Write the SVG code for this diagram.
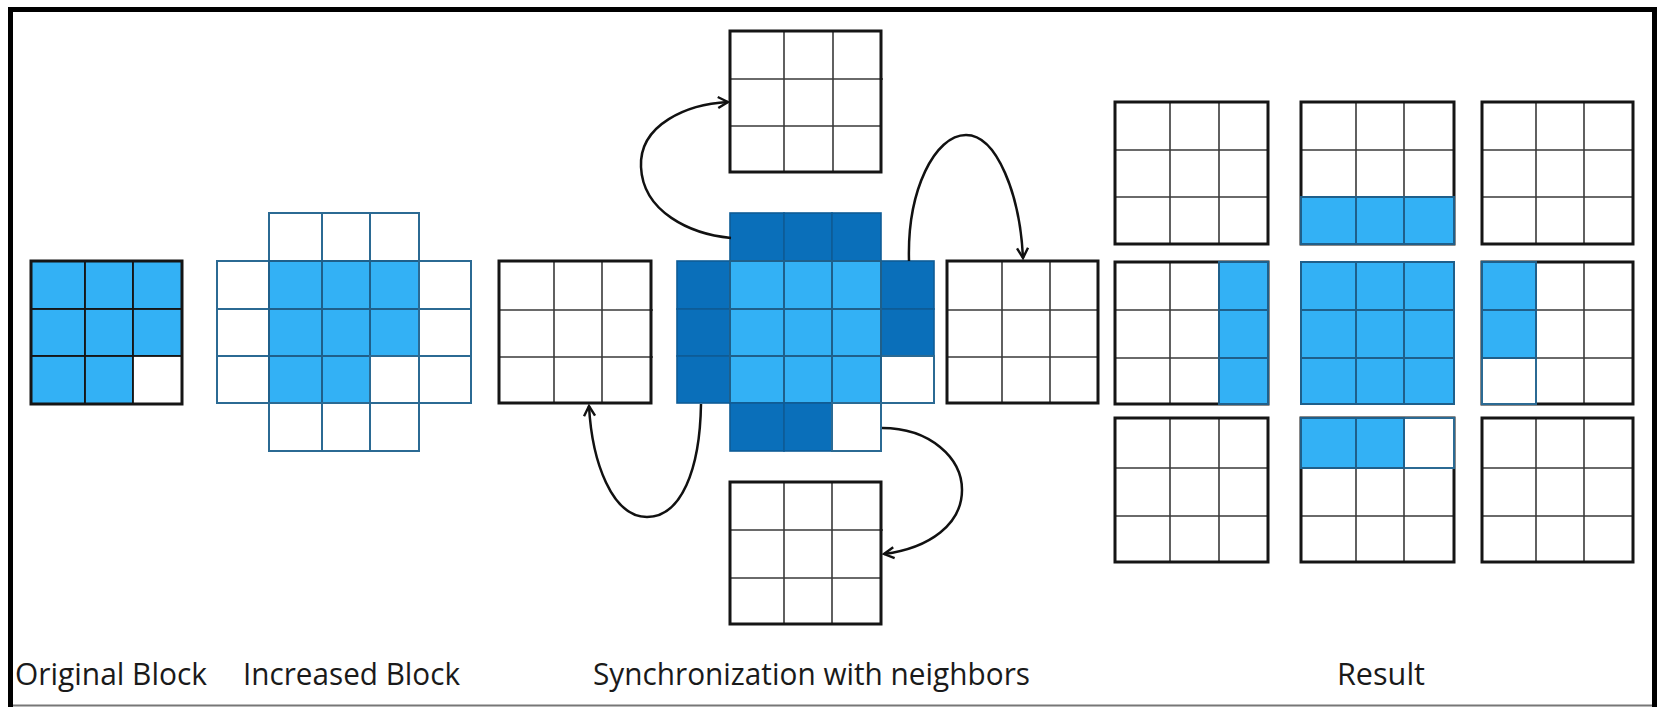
<svg xmlns="http://www.w3.org/2000/svg" width="1661" height="707" viewBox="0 0 1661 707">
<style>
.bg{fill:#ffffff;stroke:none}
.grid{fill:none;stroke:#3a3a3a;stroke-width:1.6}
.outer{fill:none;stroke:#151515;stroke-width:3}
.b{fill:#33b1f5;stroke:#1f5f8a;stroke-width:2}
.d{fill:#0a6fba;stroke:#0e5c96;stroke-width:1.6}
.w{fill:#ffffff;stroke:#2b6a93;stroke-width:2}
.ob{fill:#33b1f5;stroke:#151515;stroke-width:1.8}
.ow{fill:#ffffff;stroke:#151515;stroke-width:1.8}
.arrow{fill:none;stroke:#111111;stroke-width:2.5}
.label{font-family:"Open Sans","Liberation Sans",sans-serif;font-size:31px;fill:#1a1a1a}
</style>
<defs>
<marker id="open" viewBox="0 0 14 14" refX="12" refY="7" markerWidth="14" markerHeight="14" markerUnits="userSpaceOnUse" orient="auto">
<path d="M2,1.5 L12,7 L2,12.5" fill="none" stroke="#111111" stroke-width="2.4"/>
</marker>
</defs>
<rect x="0" y="0" width="1661" height="707" fill="#ffffff"/>
<g id="frame">
<line x1="10.5" y1="7" x2="10.5" y2="707" stroke="#000" stroke-width="5"/>
<line x1="8" y1="9.5" x2="1657" y2="9.5" stroke="#000" stroke-width="5"/>
<line x1="1654.5" y1="7" x2="1654.5" y2="707" stroke="#000" stroke-width="5"/>
<line x1="13" y1="705.5" x2="1652" y2="705.5" stroke="#777" stroke-width="2"/>
</g>

<g id="original-block">
<rect class="ob" x="31" y="261" width="54" height="48"/>
<rect class="ob" x="85" y="261" width="48" height="48"/>
<rect class="ob" x="133" y="261" width="49" height="48"/>
<rect class="ob" x="31" y="309" width="54" height="47"/>
<rect class="ob" x="85" y="309" width="48" height="47"/>
<rect class="ob" x="133" y="309" width="49" height="47"/>
<rect class="ob" x="31" y="356" width="54" height="48"/>
<rect class="ob" x="85" y="356" width="48" height="48"/>
<rect class="ow" x="133" y="356" width="49" height="48"/>
<rect class="outer" x="31" y="261" width="151" height="143"/>
</g>

<g id="increased-block">
<rect class="w" x="269" y="213" width="53" height="48"/>
<rect class="w" x="322" y="213" width="48" height="48"/>
<rect class="w" x="370" y="213" width="49" height="48"/>
<rect class="w" x="217" y="261" width="52" height="48"/>
<rect class="b" x="269" y="261" width="53" height="48"/>
<rect class="b" x="322" y="261" width="48" height="48"/>
<rect class="b" x="370" y="261" width="49" height="48"/>
<rect class="w" x="419" y="261" width="52" height="48"/>
<rect class="w" x="217" y="309" width="52" height="47"/>
<rect class="b" x="269" y="309" width="53" height="47"/>
<rect class="b" x="322" y="309" width="48" height="47"/>
<rect class="b" x="370" y="309" width="49" height="47"/>
<rect class="w" x="419" y="309" width="52" height="47"/>
<rect class="w" x="217" y="356" width="52" height="47"/>
<rect class="b" x="269" y="356" width="53" height="47"/>
<rect class="b" x="322" y="356" width="48" height="47"/>
<rect class="w" x="370" y="356" width="49" height="47"/>
<rect class="w" x="419" y="356" width="52" height="47"/>
<rect class="w" x="269" y="403" width="53" height="48"/>
<rect class="w" x="322" y="403" width="48" height="48"/>
<rect class="w" x="370" y="403" width="49" height="48"/>
</g>

<g id="neighbor-left">
<rect class="bg" x="499" y="261" width="152" height="142"/>
<path class="grid" d="M554,261V403M602,261V403M499,310H653M499,357H653"/>
<rect class="outer" x="499" y="261" width="152" height="142"/>
</g>

<g id="neighbor-top">
<rect class="bg" x="730" y="31" width="151" height="141"/>
<path class="grid" d="M784,31V172M833,31V172M730,79H883M730,126H881"/>
<rect class="outer" x="730" y="31" width="151" height="141"/>
</g>

<g id="neighbor-right">
<rect class="bg" x="947" y="261" width="151" height="142"/>
<path class="grid" d="M1002,261V403M1050,261V403M947,310H1098M947,357H1098"/>
<rect class="outer" x="947" y="261" width="151" height="142"/>
</g>

<g id="neighbor-bottom">
<rect class="bg" x="730" y="482" width="151" height="142"/>
<path class="grid" d="M784,482V624M832,482V624M730,530H883M730,578H881"/>
<rect class="outer" x="730" y="482" width="151" height="142"/>
</g>

<g id="sync-block">
<rect class="d" x="730" y="213" width="54" height="48"/>
<rect class="d" x="784" y="213" width="48" height="48"/>
<rect class="d" x="832" y="213" width="49" height="48"/>
<rect class="d" x="677" y="261" width="53" height="48"/>
<rect class="d" x="677" y="309" width="53" height="47"/>
<rect class="d" x="677" y="356" width="53" height="47"/>
<rect class="d" x="881" y="261" width="53" height="48"/>
<rect class="d" x="881" y="309" width="53" height="47"/>
<rect class="w" x="881" y="356" width="53" height="47"/>
<rect class="b" x="730" y="261" width="54" height="48"/>
<rect class="b" x="784" y="261" width="48" height="48"/>
<rect class="b" x="832" y="261" width="49" height="48"/>
<rect class="b" x="730" y="309" width="54" height="47"/>
<rect class="b" x="784" y="309" width="48" height="47"/>
<rect class="b" x="832" y="309" width="49" height="47"/>
<rect class="b" x="730" y="356" width="54" height="47"/>
<rect class="b" x="784" y="356" width="48" height="47"/>
<rect class="b" x="832" y="356" width="49" height="47"/>
<rect class="d" x="730" y="403" width="54" height="48"/>
<rect class="d" x="784" y="403" width="48" height="48"/>
<rect class="w" x="832" y="403" width="49" height="48"/>
</g>

<g id="result-r1c1">
<rect class="bg" x="1115" y="102" width="153" height="142"/>
<path class="grid" d="M1170,102V244M1219,102V244M1115,150H1268M1115,197H1268"/>
<rect class="outer" x="1115" y="102" width="153" height="142"/>
</g>
<g id="result-r1c2">
<rect class="bg" x="1301" y="102" width="153" height="142"/>
<path class="grid" d="M1356,102V244M1404,102V244M1301,150H1454M1301,197H1454"/>
<rect class="outer" x="1301" y="102" width="153" height="142"/>
<rect class="b" x="1301" y="197" width="55" height="47"/>
<rect class="b" x="1356" y="197" width="48" height="47"/>
<rect class="b" x="1404" y="197" width="50" height="47"/>
</g>
<g id="result-r1c3">
<rect class="bg" x="1482" y="102" width="151" height="142"/>
<path class="grid" d="M1536,102V244M1584,102V244M1482,150H1633M1482,197H1633"/>
<rect class="outer" x="1482" y="102" width="151" height="142"/>
</g>
<g id="result-r2c1">
<rect class="bg" x="1115" y="262" width="153" height="142"/>
<path class="grid" d="M1170,262V404M1219,262V404M1115,310H1268M1115,358H1268"/>
<rect class="outer" x="1115" y="262" width="153" height="142"/>
<rect class="b" x="1219" y="262" width="49" height="48"/>
<rect class="b" x="1219" y="310" width="49" height="48"/>
<rect class="b" x="1219" y="358" width="49" height="46"/>
</g>
<g id="result-r2c2">
<rect class="b" x="1301" y="262" width="55" height="48"/>
<rect class="b" x="1356" y="262" width="48" height="48"/>
<rect class="b" x="1404" y="262" width="50" height="48"/>
<rect class="b" x="1301" y="310" width="55" height="48"/>
<rect class="b" x="1356" y="310" width="48" height="48"/>
<rect class="b" x="1404" y="310" width="50" height="48"/>
<rect class="b" x="1301" y="358" width="55" height="46"/>
<rect class="b" x="1356" y="358" width="48" height="46"/>
<rect class="b" x="1404" y="358" width="50" height="46"/>
</g>
<g id="result-r2c3">
<rect class="bg" x="1482" y="262" width="151" height="142"/>
<path class="grid" d="M1536,262V404M1584,262V404M1482,310H1633M1482,358H1633"/>
<rect class="outer" x="1482" y="262" width="151" height="142"/>
<rect class="w" x="1482" y="358" width="54" height="46"/>
<rect class="b" x="1482" y="262" width="54" height="48"/>
<rect class="b" x="1482" y="310" width="54" height="48"/>
</g>
<g id="result-r3c1">
<rect class="bg" x="1115" y="418" width="153" height="144"/>
<path class="grid" d="M1170,418V562M1219,418V562M1115,468H1268M1115,516H1268"/>
<rect class="outer" x="1115" y="418" width="153" height="144"/>
</g>
<g id="result-r3c2">
<rect class="bg" x="1301" y="418" width="153" height="144"/>
<path class="grid" d="M1356,418V562M1404,418V562M1301,468H1454M1301,516H1454"/>
<rect class="outer" x="1301" y="418" width="153" height="144"/>
<rect class="w" x="1404" y="418" width="50" height="50"/>
<rect class="b" x="1301" y="418" width="55" height="50"/>
<rect class="b" x="1356" y="418" width="48" height="50"/>
</g>
<g id="result-r3c3">
<rect class="bg" x="1482" y="418" width="151" height="144"/>
<path class="grid" d="M1536,418V562M1584,418V562M1482,468H1633M1482,516H1633"/>
<rect class="outer" x="1482" y="418" width="151" height="144"/>
</g>

<g id="connectors">
<path class="arrow" marker-end="url(#open)" d="M731,238 C690,234 643,212 641,167 C639,124 688,104 728,102"/>
<path class="arrow" marker-end="url(#open)" d="M909,261 C907,190 935,135 966,135 C997,135 1020,195 1023,258"/>
<path class="arrow" marker-end="url(#open)" d="M701,404 C700,470 681,517 647,517 C612,517 592,462 589,406"/>
<path class="arrow" marker-end="url(#open)" d="M882,428 C930,428 962,458 962,490 C962,524 930,548 884,554"/>
</g>

<g id="labels">
<text class="label" x="15" y="685" textLength="192" lengthAdjust="spacingAndGlyphs">Original Block</text>
<text class="label" x="243" y="685" textLength="217" lengthAdjust="spacingAndGlyphs">Increased Block</text>
<text class="label" x="593" y="685" textLength="437" lengthAdjust="spacingAndGlyphs">Synchronization with neighbors</text>
<text class="label" x="1337" y="685" textLength="88" lengthAdjust="spacingAndGlyphs">Result</text>
</g>
</svg>
